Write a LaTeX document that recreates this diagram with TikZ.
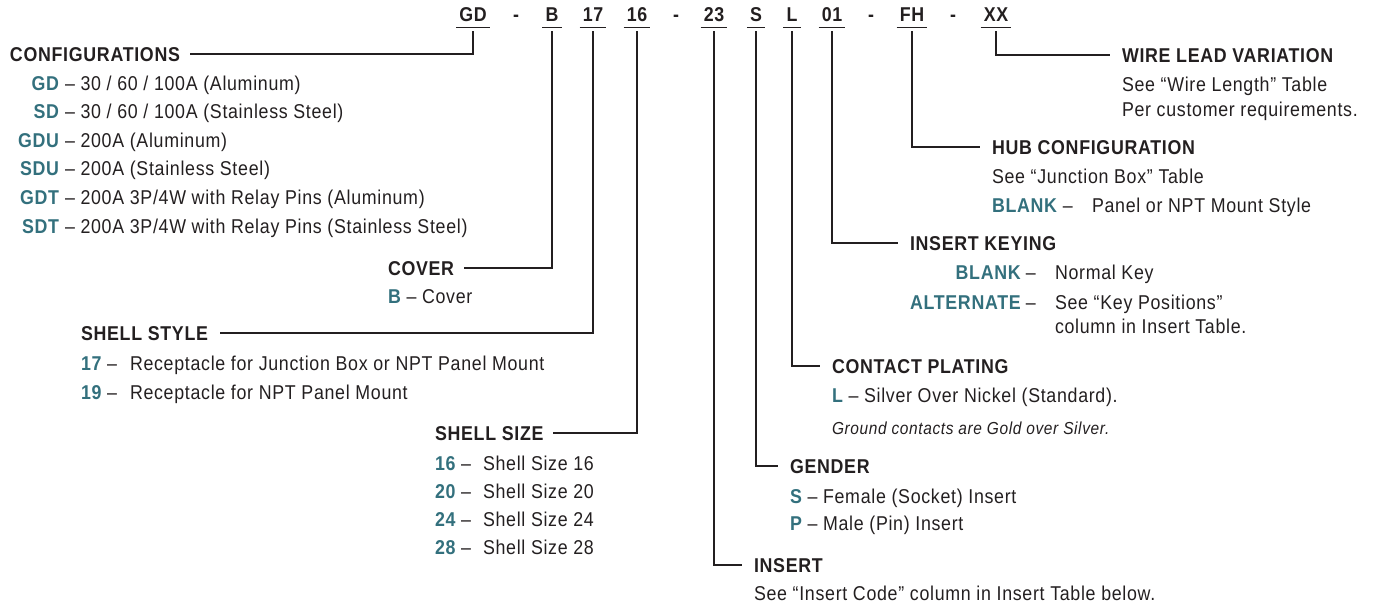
\documentclass[tikz,border=0pt]{standalone}
\usepackage{fontspec}
\setmainfont[FakeStretch=0.89, LetterSpace=3.5]{Liberation Sans}
\definecolor{ink}{HTML}{231F20}
\definecolor{codeteal}{HTML}{33707D}
\newcommand{\tc}[1]{\textcolor{codeteal}{\bfseries #1}}
\tikzset{
  every node/.style={inner sep=0pt, outer sep=0pt, text=ink, font=\fontsize{10}{12}\selectfont},
  hdr/.style={anchor=base west, font=\fontsize{10}{12}\selectfont\bfseries},
  txt/.style={anchor=base west},
  rcode/.style={anchor=base east, text=codeteal, font=\fontsize{10}{12}\selectfont\bfseries},
  lcode/.style={anchor=base west, text=codeteal, font=\fontsize{10}{12}\selectfont\bfseries},
  topcode/.style={anchor=base, inner xsep=1.6pt, font=\fontsize{10}{12}\selectfont\bfseries},
  conn/.style={draw=ink, line width=1pt},
  uline/.style={draw=ink, line width=0.6pt},
  note/.style={anchor=base west, font=\fontsize{8.7}{10}\selectfont\itshape},
}
\begin{document}
\begin{tikzpicture}[x=0.5pt,y=-0.5pt]
\useasboundingbox (0,0) rectangle (1375,607);
% ---- top code row ----
\foreach \n/\x/\t in {cGD/473/GD, cB/552/B, c17/593/17, c16/637/16, c23/714/23, cS/756/S, cL/792/L, c01/832/01, cFH/912/FH, cXX/996/XX}{
  \node[topcode] (\n) at (\x,21) {\t};
  \draw[uline] ([yshift=-3.4pt]\n.base west) -- ([yshift=-3.4pt]\n.base east);
}
\foreach \n/\x in {d1/516, d2/676, d3/871, d4/953}{
  \node[topcode] (\n) at (\x,21) {-};
}
% ---- CONFIGURATIONS ----
\node[hdr] (conf) at (10,61) {CONFIGURATIONS};
\draw[conn] ([yshift=-5pt]cGD.south) |- ([xshift=5pt]conf.east);
\foreach \n/\y/\c/\t in {
  r1/90/GD/{30 / 60 / 100A (Aluminum)},
  r2/118/SD/{30 / 60 / 100A (Stainless Steel)},
  r3/147/GDU/{200A (Aluminum)},
  r4/175/SDU/{200A (Stainless Steel)},
  r5/204/GDT/{200A 3P/4W with Relay Pins (Aluminum)},
  r6/233/SDT/{200A 3P/4W with Relay Pins (Stainless Steel)}}{
  \node[rcode] (\n c) at (59,\y) {\c};
  \node[txt] (\n t) at (65,\y) {– \t};
}
% ---- COVER ----
\node[hdr] (cover) at (388,275) {COVER};
\draw[conn] ([yshift=-5pt]cB.south) |- ([xshift=5pt]cover.east);
\node[txt] (coverb) at (388,303) {\tc{B} – Cover};
% ---- SHELL STYLE ----
\node[hdr] (sstyle) at (81,340) {SHELL STYLE};
\draw[conn] ([yshift=-5pt]c17.south) |- ([xshift=6pt]sstyle.east);
\node[txt] (ss17c) at (81,370) {\tc{17} –};
\node[txt] (ss17t) at (130,370) {Receptacle for Junction Box or NPT Panel Mount};
\node[txt] (ss19c) at (81,399) {\tc{19} –};
\node[txt] (ss19t) at (130,399) {Receptacle for NPT Panel Mount};
% ---- SHELL SIZE ----
\node[hdr] (ssize) at (435,440) {SHELL SIZE};
\draw[conn] ([yshift=-5pt]c16.south) |- ([xshift=5pt]ssize.east);
\foreach \n/\y/\c in {z1/470/16, z2/498/20, z3/526/24, z4/554/28}{
  \node[txt] (\n c) at (435,\y) {\tc{\c} –};
  \node[txt] (\n t) at (483,\y) {Shell Size \c};
}
% ---- INSERT ----
\node[hdr] (insert) at (754,572) {INSERT};
\draw[conn] ([yshift=-5pt]c23.south) |- ([xshift=-6pt]insert.west);
\node[txt] (insertt) at (754,600) {See “Insert Code” column in Insert Table below.};
% ---- GENDER ----
\node[hdr] (gender) at (790,473) {GENDER};
\draw[conn] ([yshift=-5pt]cS.south) |- ([xshift=-6pt]gender.west);
\node[txt] (gs) at (790,503) {\tc{S} – Female (Socket) Insert};
\node[txt] (gp) at (790,530) {\tc{P} – Male (Pin) Insert};
% ---- CONTACT PLATING ----
\node[hdr] (plating) at (832,373) {CONTACT PLATING};
\draw[conn] ([yshift=-5pt]cL.south) |- ([xshift=-6pt]plating.west);
\node[txt] (pl) at (832,402) {\tc{L} – Silver Over Nickel (Standard).};
\node[note] (pn) at (832,434) {Ground contacts are Gold over Silver.};
% ---- INSERT KEYING ----
\node[hdr] (keying) at (910,250) {INSERT KEYING};
\draw[conn] ([yshift=-5pt]c01.south) |- ([xshift=-6pt]keying.west);
\node[lcode] (kac) at (910,309) {ALTERNATE};
\node[rcode] (kbc) at (kac.base east |- 0,279) {BLANK};
\node[txt] (kbd) at ([xshift=2.5pt]kbc.base east) {–};
\node[txt] (kbt) at (1055,279) {Normal Key};
\node[txt] (kad) at ([xshift=2.5pt]kac.base east) {–};
\node[txt] (kat) at (1055,309) {See “Key Positions”};
\node[txt] (kat2) at (1055,333) {column in Insert Table.};
% ---- HUB CONFIGURATION ----
\node[hdr] (hub) at (992,154) {HUB CONFIGURATION};
\draw[conn] ([yshift=-5pt]cFH.south) |- ([xshift=-6pt]hub.west);
\node[txt] (hub1) at (992,183) {See “Junction Box” Table};
\node[txt] (hubc) at (992,212) {\tc{BLANK} –};
\node[txt] (hubt) at (1092,212) {Panel or NPT Mount Style};
% ---- WIRE LEAD VARIATION ----
\node[hdr] (wire) at (1122,62) {WIRE LEAD VARIATION};
\draw[conn] ([yshift=-5pt]cXX.south) |- ([xshift=-6pt]wire.west);
\node[txt] (wire1) at (1122,91) {See “Wire Length” Table};
\node[txt] (wire2) at (1122,116) {Per customer requirements.};
\end{tikzpicture}
\end{document}
